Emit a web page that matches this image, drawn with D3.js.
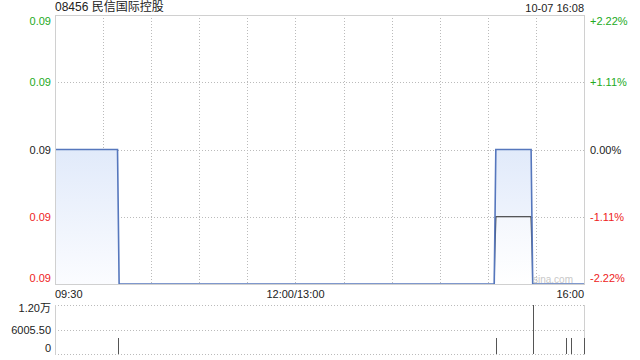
<!DOCTYPE html>
<html>
<head>
<meta charset="utf-8">
<script src="https://cdn.jsdelivr.net/npm/d3@7"></script>
<style>
  body { margin: 0; background: #fff; }
  svg { font-family: "Liberation Sans", Arial, "Noto Sans CJK SC", sans-serif; }
  .grid { stroke: #bbb; stroke-dasharray: 1,2; shape-rendering: crispEdges; }
  .frame { stroke: #d0d0d0; shape-rendering: crispEdges; }
</style>
</head>
<body>
<svg id="chart" width="640" height="360"></svg>
<script>
// chart data, minutes counted from 09:30 with the lunch break removed
var title = "08456 民信国际控股";
var stamp = "10-07 16:08";
var prevClose = 0.09;
var priceTimes = [0, 39, 40, 274, 275, 297, 298, 330];
var prices     = [0.09, 0.09, 0.088, 0.088, 0.09, 0.09, 0.088, 0.088];
var avgTimes   = [274, 275, 297, 298];
var avgPrices  = [0.088, 0.089, 0.089, 0.088];
var volTimes   = [39, 275, 298, 319, 322, 330];
var volumes    = [4000, 4000, 12011, 4000, 4000, 4000];
var priceTicks = [0.092, 0.091, 0.09, 0.089, 0.088];
var pctLabels  = ["+2.22%", "+1.11%", "0.00%", "-1.11%", "-2.22%"];
var volTicks   = [12011, 6005.5, 0];
var volLabels  = ["1.20万", "6005.50", "0"];
var timeLabels = ["09:30", "12:00/13:00", "16:00"];

var svg = d3.select("#chart");
var pLeft = 55, pRight = 584, pTop = 15, pBottom = 284; // price panel
var vTop = 305, vBottom = 354; // volume panel

var x = d3.scaleLinear().domain([0, 330]).range([pLeft, pRight]);
var y = d3.scaleLinear().domain([0.088, 0.092]).range([pBottom, pTop]);
var yv = d3.scaleLinear().domain([0, 12011]).range([vBottom, vTop]);

var green = "#22aa22", red = "#ee2222", dark = "#222";
function tickColor(p) { return p > prevClose + 1e-9 ? green : (p < prevClose - 1e-9 ? red : dark); }

var defs = svg.append("defs");
var g1 = defs.append("linearGradient").attr("id", "fillBlue")
  .attr("gradientUnits", "userSpaceOnUse").attr("x1", 0).attr("x2", 0)
  .attr("y1", y(0.09)).attr("y2", pBottom);
g1.append("stop").attr("offset", 0).attr("stop-color", "#e1eafa");
g1.append("stop").attr("offset", 1).attr("stop-color", "#fbfcff");
var g2 = defs.append("linearGradient").attr("id", "fillAvg")
  .attr("gradientUnits", "userSpaceOnUse").attr("x1", 0).attr("x2", 0)
  .attr("y1", y(0.089)).attr("y2", pBottom);
g2.append("stop").attr("offset", 0).attr("stop-color", "#f4f7fd");
g2.append("stop").attr("offset", 1).attr("stop-color", "#ffffff");
var g3 = defs.append("linearGradient").attr("id", "strokeAvg")
  .attr("gradientUnits", "userSpaceOnUse").attr("x1", 0).attr("x2", 0)
  .attr("y1", y(0.089)).attr("y2", pBottom);
g3.append("stop").attr("offset", 0).attr("stop-color", "#222");
g3.append("stop").attr("offset", 1).attr("stop-color", "#c8d0e0");

// grid
var vgrid = d3.range(30, 330, 30);
svg.append("g").selectAll("line").data(vgrid).join("line")
  .attr("class", "grid")
  .attr("x1", d => Math.round(x(d)) + 0.5).attr("x2", d => Math.round(x(d)) + 0.5)
  .attr("y1", pTop).attr("y2", pBottom);
svg.append("g").selectAll("line").data(priceTicks.slice(1, 4)).join("line")
  .attr("class", "grid")
  .attr("x1", pLeft).attr("x2", pRight)
  .attr("y1", d => Math.round(y(d)) + 0.5).attr("y2", d => Math.round(y(d)) + 0.5);

// price area + line
var pts = priceTimes.map((t, i) => [t, prices[i]]);
svg.append("path").datum(pts)
  .attr("fill", "url(#fillBlue)")
  .attr("d", d3.area().x(d => x(d[0])).y0(pBottom).y1(d => y(d[1])));
var apts = avgTimes.map((t, i) => [t, avgPrices[i]]);
svg.append("path").datum(apts)
  .attr("fill", "url(#fillAvg)")
  .attr("d", d3.area().x(d => x(d[0])).y0(pBottom).y1(d => y(d[1])));
svg.append("path").datum(apts)
  .attr("fill", "none").attr("stroke", "url(#strokeAvg)").attr("stroke-width", 1.2)
  .attr("d", d3.line().x(d => x(d[0])).y(d => y(d[1])));
svg.append("path").datum(pts)
  .attr("fill", "none").attr("stroke", "#5677bd").attr("stroke-width", 1.6)
  .attr("d", d3.line().x(d => x(d[0])).y(d => y(d[1])));

// frame of price panel
svg.append("line").attr("class", "frame").attr("x1", pLeft + 0.5).attr("x2", pLeft + 0.5).attr("y1", pTop).attr("y2", pBottom + 1);
svg.append("line").attr("class", "frame").attr("x1", pRight + 0.5).attr("x2", pRight + 0.5).attr("y1", pTop).attr("y2", pBottom + 1);
svg.append("line").attr("class", "frame").attr("x1", pLeft).attr("x2", pRight).attr("y1", pTop + 0.5).attr("y2", pTop + 0.5);
svg.append("line").attr("class", "frame").attr("x1", pLeft).attr("x2", pRight).attr("y1", pBottom + 0.5).attr("y2", pBottom + 0.5);

// watermark
svg.append("text").attr("x", 553).attr("y", pBottom - 1).attr("text-anchor", "middle")
  .attr("font-size", 10).attr("fill", "#c8c8c8").text("sina.com");

// price labels
function labelY(d, i) {
  var py = y(d) + 4;
  if (i === 0) py = pTop + 10;
  if (i === priceTicks.length - 1) py = pBottom - 2;
  return py;
}
svg.append("g").selectAll("text").data(priceTicks).join("text")
  .attr("x", 51).attr("y", labelY).attr("text-anchor", "end")
  .attr("font-size", 11).attr("fill", d => tickColor(d))
  .text(d => d3.format(".2f")(d));
svg.append("g").selectAll("text").data(priceTicks).join("text")
  .attr("x", 590).attr("y", labelY)
  .attr("font-size", 11).attr("fill", d => tickColor(d))
  .text((d, i) => pctLabels[i]);

// time labels
svg.append("g").selectAll("text").data(timeLabels).join("text")
  .attr("x", (d, i) => [pLeft, x(150), pRight][i])
  .attr("y", 298)
  .attr("text-anchor", (d, i) => ["start", "middle", "end"][i])
  .attr("font-size", 11).attr("fill", dark).text(d => d);

// title
svg.append("text").attr("x", pLeft).attr("y", 11).attr("font-size", 12).attr("fill", dark).text(title);
svg.append("text").attr("x", pRight).attr("y", 12).attr("text-anchor", "end")
  .attr("font-size", 11).attr("fill", dark).text(stamp);

// volume panel
svg.append("g").selectAll("line").data(volTicks).join("line")
  .attr("class", "grid")
  .attr("x1", pLeft).attr("x2", pRight)
  .attr("y1", d => Math.round(yv(d)) + 0.5).attr("y2", d => Math.round(yv(d)) + 0.5);
svg.append("line").attr("class", "frame").attr("x1", pLeft + 0.5).attr("x2", pLeft + 0.5).attr("y1", vTop).attr("y2", vBottom + 1);
svg.append("line").attr("class", "frame").attr("x1", pRight + 0.5).attr("x2", pRight + 0.5).attr("y1", vTop).attr("y2", vBottom + 1);
svg.append("g").selectAll("line").data(volTimes).join("line")
  .attr("x1", d => Math.round(x(d)) + 0.5).attr("x2", d => Math.round(x(d)) + 0.5)
  .attr("y1", vBottom).attr("y2", (d, i) => yv(volumes[i]))
  .attr("stroke", "#555").attr("stroke-width", 1).attr("shape-rendering", "crispEdges");
svg.append("g").selectAll("text").data(volTicks).join("text")
  .attr("x", 51).attr("y", (d, i) => [yv(d) + 7, yv(d) + 4, yv(d) - 2][i])
  .attr("text-anchor", "end").attr("font-size", 11).attr("fill", dark)
  .text((d, i) => volLabels[i]);
</script>
</body>
</html>
